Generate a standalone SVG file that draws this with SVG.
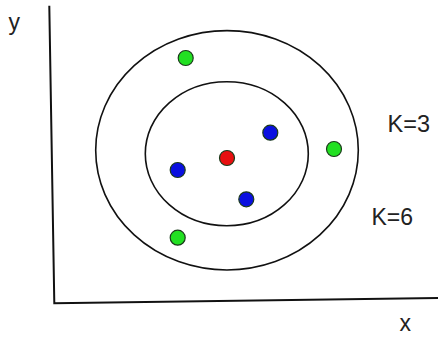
<svg xmlns="http://www.w3.org/2000/svg" width="438" height="337" viewBox="0 0 438 337">
<style>
.lbl{font-family:"Liberation Sans",Arial,sans-serif;font-size:23px;fill:#222}
.ring{fill:none;stroke:#111;stroke-width:1.6}
.axis{fill:none;stroke:#111;stroke-width:2}
.pt{stroke:#1a3a1a;stroke-width:1.2}
.g{fill:#22e022}.b{fill:#0a10e0}.r{fill:#e81010}
</style>
<rect width="438" height="337" fill="#fff"/>
<g id="axes">
<path class="axis" d="M49.3 5.7 L54.3 303.3 L438 298"/>
</g>
<g id="rings">
<ellipse id="ring-k6" class="ring" cx="227" cy="150.3" rx="131.3" ry="119.7"/>
<ellipse id="ring-k3" class="ring" cx="226.8" cy="153.7" rx="81.5" ry="72"/>
</g>
<g id="points">
<circle id="g1" class="pt g" cx="185.7" cy="58" r="7.5"/>
<circle id="g2" class="pt g" cx="334" cy="149" r="7.5"/>
<circle id="g3" class="pt g" cx="177.7" cy="237.7" r="7.5"/>
<circle id="b1" class="pt b" cx="270.3" cy="132.7" r="7.5"/>
<circle id="b2" class="pt b" cx="177.7" cy="170" r="7.5"/>
<circle id="b3" class="pt b" cx="246.3" cy="199.3" r="7.5"/>
<circle id="red" class="pt r" cx="227" cy="158" r="7.5"/>
</g>
<g id="labels">
<text class="lbl" x="8.5" y="29.5">y</text>
<text class="lbl" x="387.5" y="132.3" style="font-size:23.5px">K=3</text>
<text class="lbl" x="371.5" y="225.3">K=6</text>
<text class="lbl" x="399.5" y="331">x</text>
</g>
</svg>
